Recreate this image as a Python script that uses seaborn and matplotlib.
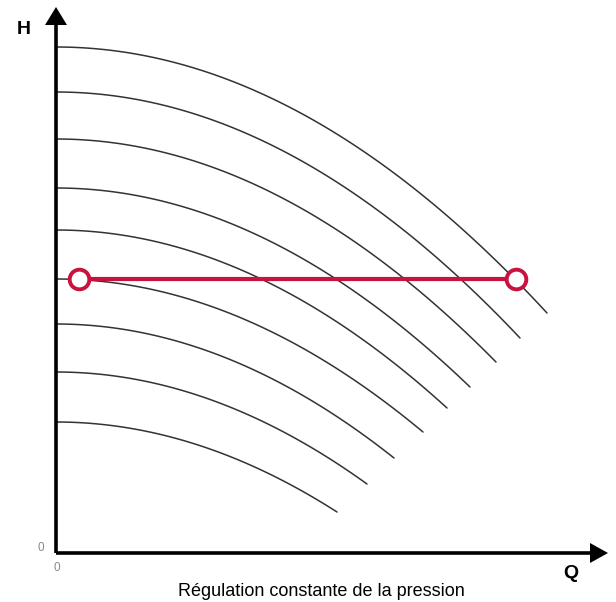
import numpy as np
import pandas as pd
import matplotlib
matplotlib.use("Agg")
import matplotlib.pyplot as plt
import seaborn as sns

# ---- data (pump curves: shut-off head and end point of each speed curve) ----
h_start = [506, 461, 414, 365, 323, 274, 229, 181, 131]
q_end = [491, 464, 440, 414, 391, 367, 338, 311, 281]
h_end = [240, 215, 191, 166, 145, 121, 95, 69, 41]
h_set = 274                      # constant pressure set point
q_set = [23, 460]                # start / end of the regulation line
title = "Régulation constante de la pression"
x_label = "Q"
y_label = "H"

sns.set_theme(style="white")
plt.rcParams['font.family'] = ['Liberation Sans', 'DejaVu Sans']

W, H = 616, 602
fig = plt.figure(figsize=(W / 100, H / 100), dpi=100)
ox, oy = 56, 553
ax = fig.add_axes([ox / W, (H - oy) / H, (W - ox) / W, oy / H])
ax.set_xlim(0, W - ox)
ax.set_ylim(0, oy)
ax.axis("off")

rows = []
for i, (h0, qe, he) in enumerate(zip(h_start, q_end, h_end)):
    q = np.linspace(0, qe, 120)
    h = h0 - (h0 - he) * (q / qe) ** 2
    for qq, hh in zip(q, h):
        rows.append({"curve": i, "Q": qq, "H": hh})
df = pd.DataFrame(rows)

sns.lineplot(data=df, x="Q", y="H", hue="curve", palette=["#333333"] * len(h_start),
             legend=False, sort=False, linewidth=1.1, ax=ax, zorder=2)

red = "#c9123f"
reg = pd.DataFrame({"Q": q_set, "H": [h_set] * len(q_set)})
sns.lineplot(data=reg, x="Q", y="H", color=red, linewidth=3.0, ax=ax, zorder=3)
sns.scatterplot(data=reg, x="Q", y="H", s=200, facecolor="white", edgecolor=red,
                linewidth=2.8, ax=ax, zorder=4, clip_on=False)

# axes with arrows
ax.plot([0, 535], [0, 0], color="black", lw=2.6, solid_capstyle="butt", clip_on=False, zorder=5)
ax.plot([0, 0], [0, 530], color="black", lw=2.6, solid_capstyle="butt", clip_on=False, zorder=5)
ax.fill([534, 552, 534], [10, 0, -10], color="black", clip_on=False, zorder=5, lw=0)
ax.fill([-11, 0, 11], [528, 546, 528], color="black", clip_on=False, zorder=5, lw=0)

def ftxt(px, py, s, **kw):
    fig.text(px / W, 1 - py / H, s, **kw)

ftxt(24, 30, y_label, fontsize=14, fontweight="bold", ha="center", va="center", color="black")
ftxt(571, 574, x_label, fontsize=14, fontweight="bold", ha="center", va="center", color="black")
ftxt(41, 548, "0", fontsize=8.5, ha="center", va="center", color="#888888")
ftxt(57, 568, "0", fontsize=8.5, ha="center", va="center", color="#888888")
ftxt(321, 592, title, fontsize=13, ha="center", va="center", color="black")

fig.savefig("out.png", dpi=100)
